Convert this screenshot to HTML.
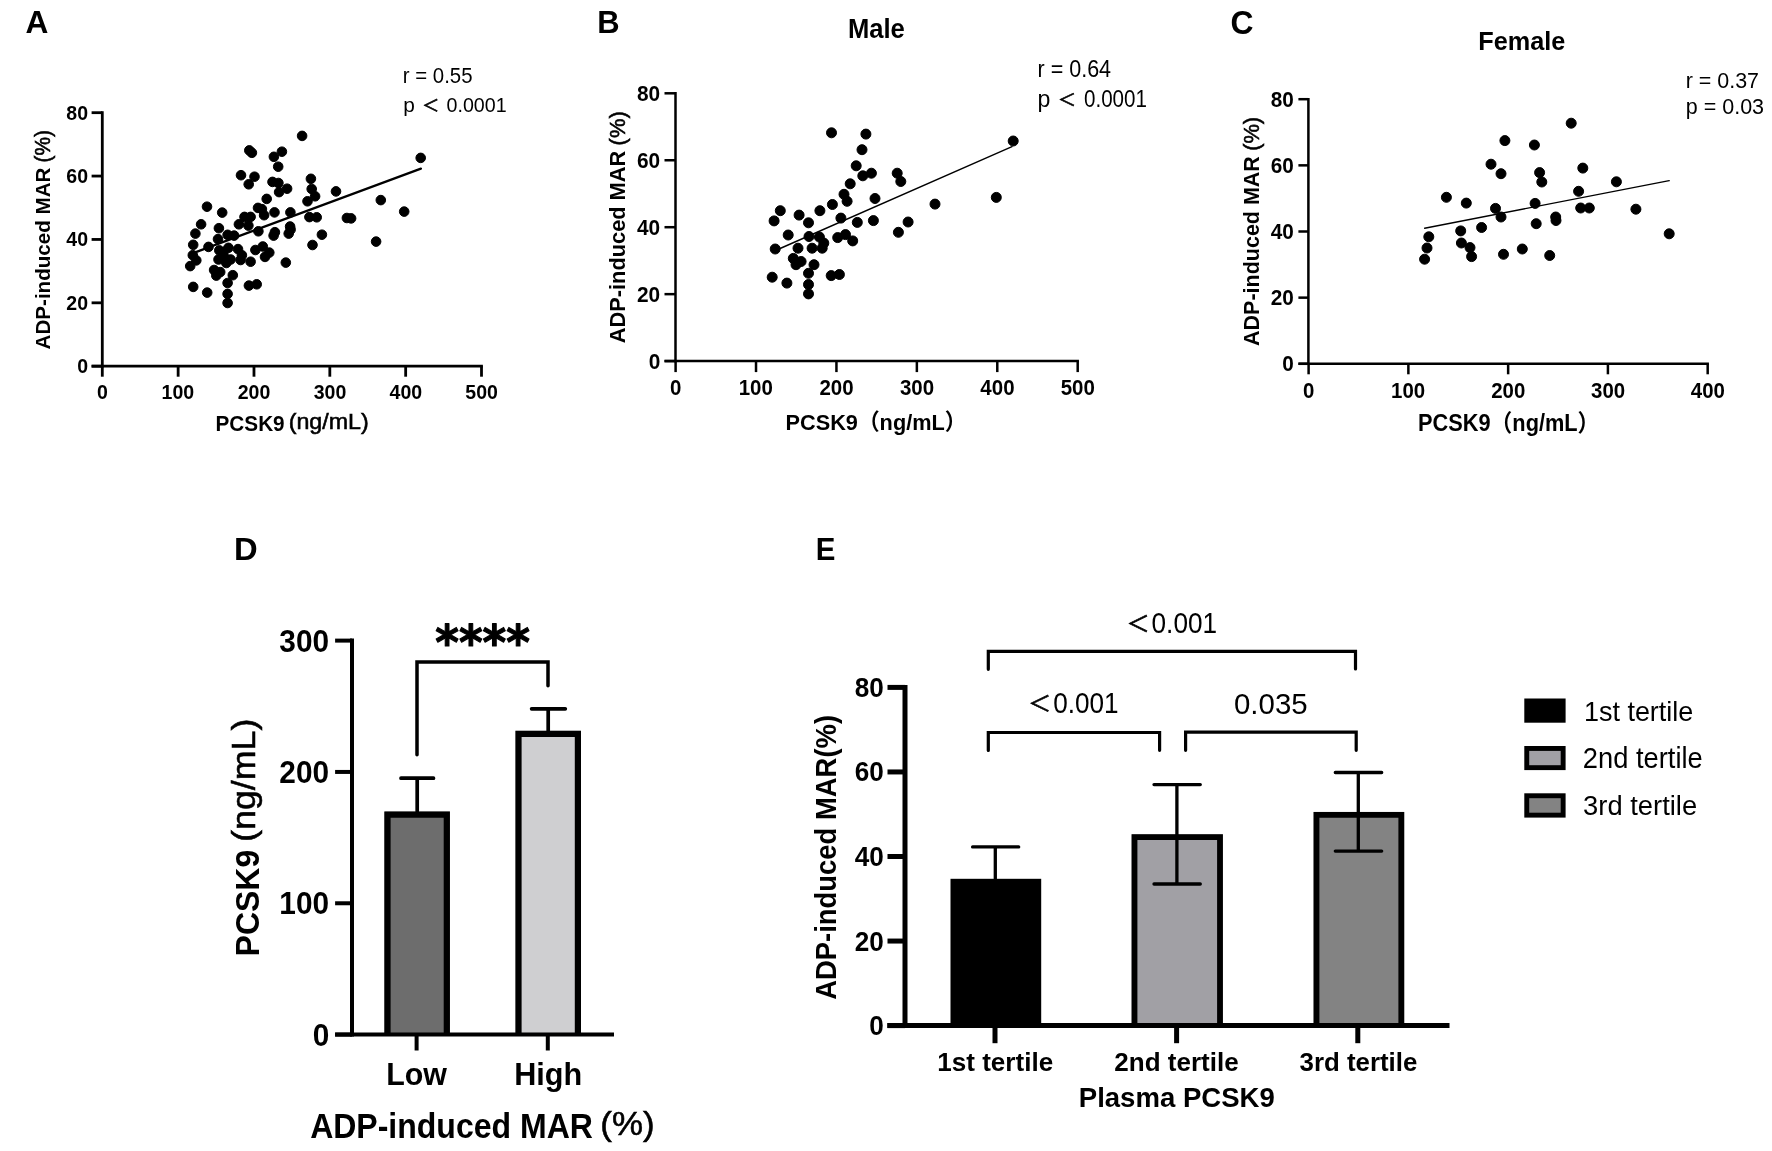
<!DOCTYPE html>
<html><head><meta charset="utf-8"><title>Figure</title>
<style>
html,body{margin:0;padding:0;background:#fff;}
body{width:1772px;height:1151px;overflow:hidden;}
svg{display:block;will-change:transform;}
text{font-family:"Liberation Sans","Noto Sans CJK SC",sans-serif;fill:#000;}
</style></head><body>
<svg width="1772" height="1151" viewBox="0 0 1772 1151">
<rect width="1772" height="1151" fill="#fff"/>
<g stroke="#000" fill="#000">
<rect x="384.40" y="811.60" width="65.50" height="223.00" fill="#6d6d6d" stroke="none"/>
<path d="M387.50,1034.60 V814.70 H446.80 V1034.60" fill="none" stroke-width="6.2" stroke-linejoin="miter"/>
<rect x="515.40" y="730.70" width="65.60" height="303.90" fill="#cfcfd1" stroke="none"/>
<path d="M518.50,1034.60 V733.80 H577.90 V1034.60" fill="none" stroke-width="6.2" stroke-linejoin="miter"/>
<rect x="1131.60" y="834.20" width="91.30" height="191.40" fill="#a1a0a5" stroke="none"/>
<path d="M1134.50,1025.60 V837.10 H1220.00 V1025.60" fill="none" stroke-width="5.8" stroke-linejoin="miter"/>
<rect x="1313.60" y="811.90" width="90.60" height="213.70" fill="#838383" stroke="none"/>
<path d="M1316.50,1025.60 V814.80 H1401.30 V1025.60" fill="none" stroke-width="5.8" stroke-linejoin="miter"/>
<path d="M102.30,112.68 V366.20" stroke-width="2.8" fill="none" stroke-linecap="square"/>
<line x1="91.60" y1="366.20" x2="482.90" y2="366.20" stroke-width="2.8" stroke-linecap="butt"/>
<line x1="91.60" y1="366.20" x2="102.30" y2="366.20" stroke-width="2.8" stroke-linecap="butt"/>
<line x1="91.60" y1="302.82" x2="102.30" y2="302.82" stroke-width="2.8" stroke-linecap="butt"/>
<line x1="91.60" y1="239.44" x2="102.30" y2="239.44" stroke-width="2.8" stroke-linecap="butt"/>
<line x1="91.60" y1="176.06" x2="102.30" y2="176.06" stroke-width="2.8" stroke-linecap="butt"/>
<line x1="91.60" y1="112.68" x2="102.30" y2="112.68" stroke-width="2.8" stroke-linecap="butt"/>
<line x1="102.30" y1="366.20" x2="102.30" y2="376.70" stroke-width="2.8" stroke-linecap="butt"/>
<line x1="178.14" y1="366.20" x2="178.14" y2="376.70" stroke-width="2.8" stroke-linecap="butt"/>
<line x1="253.98" y1="366.20" x2="253.98" y2="376.70" stroke-width="2.8" stroke-linecap="butt"/>
<line x1="329.82" y1="366.20" x2="329.82" y2="376.70" stroke-width="2.8" stroke-linecap="butt"/>
<line x1="405.66" y1="366.20" x2="405.66" y2="376.70" stroke-width="2.8" stroke-linecap="butt"/>
<line x1="481.50" y1="366.20" x2="481.50" y2="376.70" stroke-width="2.8" stroke-linecap="butt"/>
<circle cx="302.1" cy="135.9" r="4.8"/>
<circle cx="249.3" cy="150.4" r="4.8"/>
<circle cx="251.9" cy="152.8" r="4.8"/>
<circle cx="281.9" cy="151.7" r="4.8"/>
<circle cx="273.9" cy="156.8" r="4.8"/>
<circle cx="278.2" cy="166.7" r="4.8"/>
<circle cx="241.0" cy="175.2" r="4.8"/>
<circle cx="254.5" cy="176.7" r="4.8"/>
<circle cx="248.7" cy="184.3" r="4.8"/>
<circle cx="272.5" cy="181.9" r="4.8"/>
<circle cx="278.4" cy="183.0" r="4.8"/>
<circle cx="287.1" cy="188.7" r="4.8"/>
<circle cx="279.1" cy="192.1" r="4.8"/>
<circle cx="310.9" cy="178.8" r="4.8"/>
<circle cx="311.7" cy="189.0" r="4.8"/>
<circle cx="307.5" cy="201.3" r="4.8"/>
<circle cx="266.7" cy="198.9" r="4.8"/>
<circle cx="207.0" cy="206.7" r="4.8"/>
<circle cx="222.2" cy="212.6" r="4.8"/>
<circle cx="258.0" cy="207.9" r="4.8"/>
<circle cx="261.9" cy="209.1" r="4.8"/>
<circle cx="264.1" cy="215.2" r="4.8"/>
<circle cx="274.5" cy="212.4" r="4.8"/>
<circle cx="290.4" cy="212.4" r="4.8"/>
<circle cx="244.5" cy="216.9" r="4.8"/>
<circle cx="250.6" cy="216.9" r="4.8"/>
<circle cx="309.4" cy="217.1" r="4.8"/>
<circle cx="201.1" cy="224.3" r="4.8"/>
<circle cx="218.9" cy="228.2" r="4.8"/>
<circle cx="238.9" cy="224.3" r="4.8"/>
<circle cx="248.4" cy="225.6" r="4.8"/>
<circle cx="195.4" cy="233.6" r="4.8"/>
<circle cx="218.0" cy="239.1" r="4.8"/>
<circle cx="227.6" cy="234.8" r="4.8"/>
<circle cx="234.1" cy="235.6" r="4.8"/>
<circle cx="258.4" cy="231.3" r="4.8"/>
<circle cx="274.9" cy="232.2" r="4.8"/>
<circle cx="273.6" cy="235.6" r="4.8"/>
<circle cx="290.1" cy="226.5" r="4.8"/>
<circle cx="290.6" cy="229.6" r="4.8"/>
<circle cx="288.7" cy="233.6" r="4.8"/>
<circle cx="193.2" cy="244.8" r="4.8"/>
<circle cx="208.5" cy="246.9" r="4.8"/>
<circle cx="219.3" cy="250.4" r="4.8"/>
<circle cx="228.4" cy="247.8" r="4.8"/>
<circle cx="238.0" cy="249.1" r="4.8"/>
<circle cx="241.9" cy="255.2" r="4.8"/>
<circle cx="218.5" cy="259.5" r="4.8"/>
<circle cx="226.3" cy="263.0" r="4.8"/>
<circle cx="230.6" cy="259.5" r="4.8"/>
<circle cx="223.7" cy="256.1" r="4.8"/>
<circle cx="240.6" cy="260.0" r="4.8"/>
<circle cx="250.6" cy="261.7" r="4.8"/>
<circle cx="255.4" cy="250.0" r="4.8"/>
<circle cx="262.8" cy="246.5" r="4.8"/>
<circle cx="269.3" cy="252.6" r="4.8"/>
<circle cx="265.0" cy="256.9" r="4.8"/>
<circle cx="312.5" cy="245.0" r="4.8"/>
<circle cx="285.8" cy="262.6" r="4.8"/>
<circle cx="192.8" cy="255.2" r="4.8"/>
<circle cx="196.3" cy="260.4" r="4.8"/>
<circle cx="190.2" cy="266.1" r="4.8"/>
<circle cx="214.1" cy="270.0" r="4.8"/>
<circle cx="220.2" cy="272.1" r="4.8"/>
<circle cx="216.3" cy="275.6" r="4.8"/>
<circle cx="232.8" cy="275.2" r="4.8"/>
<circle cx="227.6" cy="283.0" r="4.8"/>
<circle cx="248.9" cy="285.6" r="4.8"/>
<circle cx="256.7" cy="284.3" r="4.8"/>
<circle cx="193.2" cy="286.9" r="4.8"/>
<circle cx="207.2" cy="292.6" r="4.8"/>
<circle cx="227.6" cy="293.9" r="4.8"/>
<circle cx="227.6" cy="303.0" r="4.8"/>
<circle cx="223.5" cy="252.0" r="4.8"/>
<circle cx="420.7" cy="157.9" r="4.8"/>
<circle cx="315.1" cy="196.3" r="4.8"/>
<circle cx="336.0" cy="191.4" r="4.8"/>
<circle cx="380.8" cy="200.1" r="4.8"/>
<circle cx="404.2" cy="211.6" r="4.8"/>
<circle cx="316.7" cy="217.3" r="4.8"/>
<circle cx="346.9" cy="218.0" r="4.8"/>
<circle cx="351.1" cy="218.4" r="4.8"/>
<circle cx="321.9" cy="234.7" r="4.8"/>
<circle cx="376.1" cy="241.6" r="4.8"/>
<line x1="194.50" y1="252.60" x2="420.90" y2="168.70" stroke-width="2.3" stroke-linecap="round"/>
<path d="M675.50,93.30 V361.10" stroke-width="2.5" fill="none" stroke-linecap="square"/>
<line x1="664.50" y1="361.10" x2="1078.95" y2="361.10" stroke-width="2.5" stroke-linecap="butt"/>
<line x1="664.50" y1="361.10" x2="675.50" y2="361.10" stroke-width="2.5" stroke-linecap="butt"/>
<line x1="664.50" y1="294.15" x2="675.50" y2="294.15" stroke-width="2.5" stroke-linecap="butt"/>
<line x1="664.50" y1="227.20" x2="675.50" y2="227.20" stroke-width="2.5" stroke-linecap="butt"/>
<line x1="664.50" y1="160.25" x2="675.50" y2="160.25" stroke-width="2.5" stroke-linecap="butt"/>
<line x1="664.50" y1="93.30" x2="675.50" y2="93.30" stroke-width="2.5" stroke-linecap="butt"/>
<line x1="675.60" y1="361.10" x2="675.60" y2="372.10" stroke-width="2.5" stroke-linecap="butt"/>
<line x1="756.02" y1="361.10" x2="756.02" y2="372.10" stroke-width="2.5" stroke-linecap="butt"/>
<line x1="836.44" y1="361.10" x2="836.44" y2="372.10" stroke-width="2.5" stroke-linecap="butt"/>
<line x1="916.86" y1="361.10" x2="916.86" y2="372.10" stroke-width="2.5" stroke-linecap="butt"/>
<line x1="997.28" y1="361.10" x2="997.28" y2="372.10" stroke-width="2.5" stroke-linecap="butt"/>
<line x1="1077.70" y1="361.10" x2="1077.70" y2="372.10" stroke-width="2.5" stroke-linecap="butt"/>
<circle cx="831.5" cy="132.8" r="5.0"/>
<circle cx="865.9" cy="134.1" r="5.0"/>
<circle cx="862.0" cy="149.7" r="5.0"/>
<circle cx="856.2" cy="165.8" r="5.0"/>
<circle cx="871.4" cy="173.2" r="5.0"/>
<circle cx="862.8" cy="175.8" r="5.0"/>
<circle cx="897.2" cy="173.2" r="5.0"/>
<circle cx="900.8" cy="181.5" r="5.0"/>
<circle cx="850.2" cy="183.8" r="5.0"/>
<circle cx="844.0" cy="194.3" r="5.0"/>
<circle cx="847.1" cy="201.3" r="5.0"/>
<circle cx="875.0" cy="198.5" r="5.0"/>
<circle cx="832.4" cy="204.5" r="5.0"/>
<circle cx="780.3" cy="210.7" r="5.0"/>
<circle cx="799.1" cy="215.1" r="5.0"/>
<circle cx="819.9" cy="210.7" r="5.0"/>
<circle cx="774.1" cy="220.9" r="5.0"/>
<circle cx="808.5" cy="222.8" r="5.0"/>
<circle cx="840.9" cy="218.1" r="5.0"/>
<circle cx="857.3" cy="222.4" r="5.0"/>
<circle cx="873.4" cy="220.6" r="5.0"/>
<circle cx="908.1" cy="222.0" r="5.0"/>
<circle cx="898.4" cy="232.3" r="5.0"/>
<circle cx="788.2" cy="235.0" r="5.0"/>
<circle cx="809.0" cy="236.5" r="5.0"/>
<circle cx="819.4" cy="237.0" r="5.0"/>
<circle cx="823.8" cy="243.1" r="5.0"/>
<circle cx="837.7" cy="237.6" r="5.0"/>
<circle cx="845.5" cy="234.6" r="5.0"/>
<circle cx="852.7" cy="240.9" r="5.0"/>
<circle cx="775.2" cy="249.0" r="5.0"/>
<circle cx="798.0" cy="248.2" r="5.0"/>
<circle cx="812.1" cy="248.2" r="5.0"/>
<circle cx="822.2" cy="248.2" r="5.0"/>
<circle cx="793.3" cy="258.4" r="5.0"/>
<circle cx="801.1" cy="261.5" r="5.0"/>
<circle cx="796.0" cy="264.7" r="5.0"/>
<circle cx="814.0" cy="264.7" r="5.0"/>
<circle cx="808.5" cy="273.3" r="5.0"/>
<circle cx="772.2" cy="277.2" r="5.0"/>
<circle cx="786.9" cy="283.1" r="5.0"/>
<circle cx="831.2" cy="275.6" r="5.0"/>
<circle cx="839.4" cy="274.5" r="5.0"/>
<circle cx="808.5" cy="284.5" r="5.0"/>
<circle cx="808.5" cy="293.9" r="5.0"/>
<circle cx="935.0" cy="204.1" r="5.0"/>
<circle cx="996.3" cy="197.4" r="5.0"/>
<circle cx="1013.2" cy="141.0" r="5.0"/>
<line x1="775.50" y1="250.50" x2="1012.00" y2="146.60" stroke-width="1.4" stroke-linecap="round"/>
<path d="M1308.40,99.20 V363.80" stroke-width="2.5" fill="none" stroke-linecap="square"/>
<line x1="1298.40" y1="363.80" x2="1708.93" y2="363.80" stroke-width="2.5" stroke-linecap="butt"/>
<line x1="1298.40" y1="363.80" x2="1308.40" y2="363.80" stroke-width="2.5" stroke-linecap="butt"/>
<line x1="1298.40" y1="297.65" x2="1308.40" y2="297.65" stroke-width="2.5" stroke-linecap="butt"/>
<line x1="1298.40" y1="231.50" x2="1308.40" y2="231.50" stroke-width="2.5" stroke-linecap="butt"/>
<line x1="1298.40" y1="165.35" x2="1308.40" y2="165.35" stroke-width="2.5" stroke-linecap="butt"/>
<line x1="1298.40" y1="99.20" x2="1308.40" y2="99.20" stroke-width="2.5" stroke-linecap="butt"/>
<line x1="1308.60" y1="363.80" x2="1308.60" y2="374.30" stroke-width="2.5" stroke-linecap="butt"/>
<line x1="1408.37" y1="363.80" x2="1408.37" y2="374.30" stroke-width="2.5" stroke-linecap="butt"/>
<line x1="1508.14" y1="363.80" x2="1508.14" y2="374.30" stroke-width="2.5" stroke-linecap="butt"/>
<line x1="1607.91" y1="363.80" x2="1607.91" y2="374.30" stroke-width="2.5" stroke-linecap="butt"/>
<line x1="1707.68" y1="363.80" x2="1707.68" y2="374.30" stroke-width="2.5" stroke-linecap="butt"/>
<circle cx="1571.2" cy="123.2" r="5.0"/>
<circle cx="1504.9" cy="140.6" r="5.0"/>
<circle cx="1534.4" cy="145.0" r="5.0"/>
<circle cx="1491.0" cy="164.2" r="5.0"/>
<circle cx="1501.0" cy="173.7" r="5.0"/>
<circle cx="1539.6" cy="172.6" r="5.0"/>
<circle cx="1541.8" cy="182.0" r="5.0"/>
<circle cx="1582.8" cy="168.1" r="5.0"/>
<circle cx="1446.4" cy="197.3" r="5.0"/>
<circle cx="1466.3" cy="203.1" r="5.0"/>
<circle cx="1535.1" cy="203.4" r="5.0"/>
<circle cx="1578.6" cy="191.3" r="5.0"/>
<circle cx="1495.5" cy="208.4" r="5.0"/>
<circle cx="1501.0" cy="217.0" r="5.0"/>
<circle cx="1580.7" cy="208.0" r="5.0"/>
<circle cx="1589.3" cy="208.0" r="5.0"/>
<circle cx="1481.6" cy="227.5" r="5.0"/>
<circle cx="1536.2" cy="223.7" r="5.0"/>
<circle cx="1555.7" cy="217.0" r="5.0"/>
<circle cx="1556.0" cy="220.5" r="5.0"/>
<circle cx="1460.7" cy="230.9" r="5.0"/>
<circle cx="1428.8" cy="236.8" r="5.0"/>
<circle cx="1427.0" cy="248.0" r="5.0"/>
<circle cx="1461.4" cy="243.0" r="5.0"/>
<circle cx="1470.0" cy="247.6" r="5.0"/>
<circle cx="1471.6" cy="256.6" r="5.0"/>
<circle cx="1424.6" cy="259.2" r="5.0"/>
<circle cx="1503.5" cy="254.3" r="5.0"/>
<circle cx="1522.3" cy="249.0" r="5.0"/>
<circle cx="1549.7" cy="255.5" r="5.0"/>
<circle cx="1616.4" cy="181.8" r="5.0"/>
<circle cx="1635.9" cy="209.2" r="5.0"/>
<circle cx="1669.2" cy="233.8" r="5.0"/>
<line x1="1424.60" y1="228.20" x2="1669.20" y2="180.60" stroke-width="1.4" stroke-linecap="round"/>
<path d="M352.0,640.61 V1034.6" stroke-width="4.0" fill="none" stroke-linecap="square"/>
<line x1="335.10" y1="1034.60" x2="614.00" y2="1034.60" stroke-width="4.0" stroke-linecap="butt"/>
<line x1="335.10" y1="1034.60" x2="352.00" y2="1034.60" stroke-width="4.0" stroke-linecap="butt"/>
<line x1="335.10" y1="903.27" x2="352.00" y2="903.27" stroke-width="4.0" stroke-linecap="butt"/>
<line x1="335.10" y1="771.94" x2="352.00" y2="771.94" stroke-width="4.0" stroke-linecap="butt"/>
<line x1="335.10" y1="640.61" x2="352.00" y2="640.61" stroke-width="4.0" stroke-linecap="butt"/>
<line x1="416.60" y1="1034.60" x2="416.60" y2="1050.50" stroke-width="4.0" stroke-linecap="butt"/>
<line x1="547.80" y1="1034.60" x2="547.80" y2="1050.50" stroke-width="4.0" stroke-linecap="butt"/>
<path d="M417.2,811.6 V778.2 M401.0,778.2 H433.5" fill="none" stroke-width="3.7" stroke-linecap="round" stroke-linejoin="miter"/>
<path d="M548.2,731.2 V708.8 M531.6,708.8 H565.3" fill="none" stroke-width="3.7" stroke-linecap="round" stroke-linejoin="miter"/>
<path d="M417.0,754.7 V662.0 H548.0 V685.7" fill="none" stroke-width="3.5" stroke-linecap="round" stroke-linejoin="miter"/>
<path d="M905.0,687.40 V1025.6" stroke-width="5.0" fill="none" stroke-linecap="square"/>
<line x1="887.30" y1="1025.60" x2="1449.50" y2="1025.60" stroke-width="5.0" stroke-linecap="butt"/>
<line x1="887.50" y1="1025.60" x2="905.00" y2="1025.60" stroke-width="5.0" stroke-linecap="butt"/>
<line x1="887.50" y1="941.05" x2="905.00" y2="941.05" stroke-width="5.0" stroke-linecap="butt"/>
<line x1="887.50" y1="856.50" x2="905.00" y2="856.50" stroke-width="5.0" stroke-linecap="butt"/>
<line x1="887.50" y1="771.95" x2="905.00" y2="771.95" stroke-width="5.0" stroke-linecap="butt"/>
<line x1="887.50" y1="687.40" x2="905.00" y2="687.40" stroke-width="5.0" stroke-linecap="butt"/>
<line x1="995.00" y1="1025.60" x2="995.00" y2="1043.20" stroke-width="5.0" stroke-linecap="butt"/>
<line x1="1176.60" y1="1025.60" x2="1176.60" y2="1043.20" stroke-width="5.0" stroke-linecap="butt"/>
<line x1="1357.80" y1="1025.60" x2="1357.80" y2="1043.20" stroke-width="5.0" stroke-linecap="butt"/>
<rect x="950.50" y="878.80" width="90.70" height="146.80" fill="#000" stroke="none"/>
<path d="M995.3,878.8 V846.9 M972.6,846.9 H1018.7" fill="none" stroke-width="3.3" stroke-linecap="round" stroke-linejoin="miter"/>
<path d="M1176.9,784.6 V884.0 M1154.0,784.6 H1200.3 M1154.0,884.0 H1200.3" fill="none" stroke-width="3.3" stroke-linecap="round" stroke-linejoin="miter"/>
<path d="M1358.3,772.5 V851.1 M1335.3,772.5 H1381.7 M1335.3,851.1 H1381.7" fill="none" stroke-width="3.3" stroke-linecap="round" stroke-linejoin="miter"/>
<path d="M988.3,669.3 V651.4 H1355.5 V669.0" fill="none" stroke-width="3.2" stroke-linecap="round" stroke-linejoin="miter"/>
<path d="M988.3,750.5 V732.5 H1159.6 V750.3" fill="none" stroke-width="3.2" stroke-linecap="round" stroke-linejoin="miter"/>
<path d="M1185.6,750.3 V732.2 H1356.2 V750.3" fill="none" stroke-width="3.2" stroke-linecap="round" stroke-linejoin="miter"/>
<rect x="1524.30" y="698.50" width="41.30" height="24.20" fill="#000" stroke="none"/>
<rect x="1526.75" y="748.45" width="36.40" height="19.20" fill="#a1a0a5" stroke-width="4.9"/>
<rect x="1526.75" y="795.75" width="36.40" height="19.40" fill="#838383" stroke-width="4.9"/>
</g>
<g>
<text transform="translate(77.245,373.124) scale(0.9725,1)" font-weight="bold" font-size="20.07">0</text>
<text transform="translate(66.314,309.744) scale(0.9725,1)" font-weight="bold" font-size="20.07">20</text>
<text transform="translate(66.314,246.364) scale(0.9725,1)" font-weight="bold" font-size="20.07">40</text>
<text transform="translate(66.314,182.984) scale(0.9725,1)" font-weight="bold" font-size="20.07">60</text>
<text transform="translate(66.314,119.604) scale(0.9725,1)" font-weight="bold" font-size="20.07">80</text>
<text transform="translate(96.923,398.693) scale(0.9445,1)" font-weight="bold" font-size="20.70">0</text>
<text transform="translate(161.617,398.693) scale(0.9445,1)" font-weight="bold" font-size="20.70">100</text>
<text transform="translate(237.750,398.693) scale(0.9445,1)" font-weight="bold" font-size="20.70">200</text>
<text transform="translate(313.688,398.693) scale(0.9445,1)" font-weight="bold" font-size="20.70">300</text>
<text transform="translate(389.528,398.693) scale(0.9445,1)" font-weight="bold" font-size="20.70">400</text>
<text transform="translate(465.270,398.693) scale(0.9445,1)" font-weight="bold" font-size="20.70">500</text>
<text transform="translate(648.659,368.535) scale(0.9683,1)" font-weight="bold" font-size="21.55">0</text>
<text transform="translate(636.974,301.585) scale(0.9683,1)" font-weight="bold" font-size="21.55">20</text>
<text transform="translate(636.974,234.635) scale(0.9683,1)" font-weight="bold" font-size="21.55">40</text>
<text transform="translate(636.974,167.685) scale(0.9683,1)" font-weight="bold" font-size="21.55">60</text>
<text transform="translate(636.974,100.735) scale(0.9683,1)" font-weight="bold" font-size="21.55">80</text>
<text transform="translate(669.960,395.285) scale(0.9518,1)" font-weight="bold" font-size="21.55">0</text>
<text transform="translate(738.689,395.285) scale(0.9518,1)" font-weight="bold" font-size="21.55">100</text>
<text transform="translate(819.417,395.285) scale(0.9518,1)" font-weight="bold" font-size="21.55">200</text>
<text transform="translate(899.940,395.285) scale(0.9518,1)" font-weight="bold" font-size="21.55">300</text>
<text transform="translate(980.360,395.285) scale(0.9518,1)" font-weight="bold" font-size="21.55">400</text>
<text transform="translate(1060.677,395.285) scale(0.9518,1)" font-weight="bold" font-size="21.55">500</text>
<text transform="translate(1282.308,371.283) scale(0.9575,1)" font-weight="bold" font-size="21.69">0</text>
<text transform="translate(1270.677,305.133) scale(0.9575,1)" font-weight="bold" font-size="21.69">20</text>
<text transform="translate(1270.677,238.983) scale(0.9575,1)" font-weight="bold" font-size="21.69">40</text>
<text transform="translate(1270.677,172.833) scale(0.9575,1)" font-weight="bold" font-size="21.69">60</text>
<text transform="translate(1270.677,106.683) scale(0.9575,1)" font-weight="bold" font-size="21.69">80</text>
<text transform="translate(1302.977,397.686) scale(0.9550,1)" font-weight="bold" font-size="21.41">0</text>
<text transform="translate(1391.093,397.686) scale(0.9550,1)" font-weight="bold" font-size="21.41">100</text>
<text transform="translate(1491.170,397.686) scale(0.9550,1)" font-weight="bold" font-size="21.41">200</text>
<text transform="translate(1591.042,397.686) scale(0.9550,1)" font-weight="bold" font-size="21.41">300</text>
<text transform="translate(1690.812,397.686) scale(0.9550,1)" font-weight="bold" font-size="21.41">400</text>
<text transform="translate(25.450,33.400) scale(0.9887,1)" font-weight="bold" font-size="32.03">A</text>
<text transform="translate(597.231,33.100) scale(0.9718,1)" font-weight="bold" font-size="31.88">B</text>
<text transform="translate(1230.426,33.572) scale(0.9704,1)" font-weight="bold" font-size="32.82">C</text>
<text transform="translate(234.005,560.200) scale(1.0283,1)" font-weight="bold" font-size="31.88">D</text>
<text transform="translate(815.837,560.200) scale(0.9241,1)" font-weight="bold" font-size="31.88">E</text>
<text transform="translate(847.907,38.000) scale(0.9351,1)" font-weight="bold" font-size="27.39">Male</text>
<text transform="translate(1478.331,49.600) scale(0.9476,1)" font-weight="bold" font-size="26.67">Female</text>
<text transform="translate(402.770,83.000) scale(0.9531,1)" font-weight="normal" font-size="21.43">r = 0.55</text>
<text transform="translate(403.140,111.500)" font-weight="normal" font-size="20.86">p</text>
<text transform="translate(422.304,110.538) scale(1.0500,1)" font-weight="normal" font-size="16.15" style="stroke:#000;stroke-width:0.6px">＜</text>
<text transform="translate(446.513,111.500) scale(0.9428,1)" font-weight="normal" font-size="20.86">0.0001</text>
<text transform="translate(1037.492,76.900) scale(0.9306,1)" font-weight="normal" font-size="23.14">r = 0.64</text>
<text transform="translate(1037.580,107.300)" font-weight="normal" font-size="23.14">p</text>
<text transform="translate(1058.103,105.933) scale(1.0785,1)" font-weight="normal" font-size="16.67" style="stroke:#000;stroke-width:0.6px">＜</text>
<text transform="translate(1083.976,107.300) scale(0.8904,1)" font-weight="normal" font-size="23.14">0.0001</text>
<text transform="translate(1685.698,87.900) scale(0.9566,1)" font-weight="normal" font-size="22.43">r = 0.37</text>
<text transform="translate(1685.795,114.400) scale(0.9526,1)" font-weight="normal" font-size="22.57">p = 0.03</text>
<text transform="translate(215.548,430.500) scale(0.9616,1)" font-weight="bold" font-size="21.57">PCSK9</text>
<text transform="translate(288.705,428.976) scale(1.0555,1)" font-weight="normal" font-size="22.02" style="stroke:#000;stroke-width:0.55px">(ng/mL)</text>
<text transform="translate(785.579,429.900) scale(0.9624,1)" font-weight="bold" font-size="22.57">PCSK9（ng/mL）</text>
<text transform="translate(1418.077,430.600) scale(0.9177,1)" font-weight="bold" font-size="23.71">PCSK9（ng/mL）</text>
<text transform="translate(50.300,349.418) rotate(-90) scale(0.9825,1)" font-weight="bold" font-size="20.96">ADP-induced MAR</text>
<text transform="translate(50.165,162.554) rotate(-90) scale(0.9679,1)" font-weight="normal" font-size="21.60" style="stroke:#000;stroke-width:0.55px">(%)</text>
<text transform="translate(625.000,343.254) rotate(-90) scale(0.9828,1)" font-weight="bold" font-size="22.19">ADP-induced MAR</text>
<text transform="translate(625.274,145.417) rotate(-90) scale(0.9550,1)" font-weight="normal" font-size="22.98" style="stroke:#000;stroke-width:0.55px">(%)</text>
<text transform="translate(1259.200,345.945) rotate(-90) scale(0.9750,1)" font-weight="bold" font-size="22.05">ADP-induced MAR</text>
<text transform="translate(1259.286,150.808) rotate(-90) scale(0.9714,1)" font-weight="normal" font-size="22.45" style="stroke:#000;stroke-width:0.55px">(%)</text>
<text transform="translate(312.695,1045.582) scale(0.9366,1)" font-weight="bold" font-size="31.83">0</text>
<text transform="translate(279.304,914.252) scale(0.9366,1)" font-weight="bold" font-size="31.83">100</text>
<text transform="translate(279.304,782.922) scale(0.9366,1)" font-weight="bold" font-size="31.83">200</text>
<text transform="translate(279.304,651.592) scale(0.9366,1)" font-weight="bold" font-size="31.83">300</text>
<text transform="translate(435.194,658.845) scale(0.9503,1)" font-weight="bold" font-size="47.66" style="font-family:'DejaVu Sans';stroke:#000;stroke-width:1.1px;stroke-linejoin:round">****</text>
<text transform="translate(386.171,1085.200) scale(0.9627,1)" font-weight="bold" font-size="31.59">Low</text>
<text transform="translate(514.156,1085.200) scale(0.9737,1)" font-weight="bold" font-size="31.45">High</text>
<text transform="translate(310.139,1138.400) scale(0.9324,1)" font-weight="bold" font-size="34.35">ADP-induced MAR</text>
<text transform="translate(600.304,1134.919) scale(1.0661,1)" font-weight="normal" font-size="32.77" style="stroke:#000;stroke-width:0.55px">(%)</text>
<text transform="translate(258.600,956.441) rotate(-90) scale(0.9495,1)" font-weight="bold" font-size="33.71">PCSK9</text>
<text transform="translate(254.941,841.950) rotate(-90) scale(1.0969,1)" font-weight="normal" font-size="32.66" style="stroke:#000;stroke-width:0.55px">(ng/mL)</text>
<text transform="translate(869.362,1035.124) scale(0.9474,1)" font-weight="bold" font-size="27.61">0</text>
<text transform="translate(854.715,950.574) scale(0.9474,1)" font-weight="bold" font-size="27.61">20</text>
<text transform="translate(854.715,866.024) scale(0.9474,1)" font-weight="bold" font-size="27.61">40</text>
<text transform="translate(854.715,781.474) scale(0.9474,1)" font-weight="bold" font-size="27.61">60</text>
<text transform="translate(854.715,696.924) scale(0.9474,1)" font-weight="bold" font-size="27.61">80</text>
<text transform="translate(1126.384,631.181) scale(1.0566,1)" font-weight="normal" font-size="21.92" style="stroke:#000;stroke-width:0.6px">＜</text>
<text transform="translate(1151.553,632.900) scale(0.9073,1)" font-weight="normal" font-size="28.86">0.001</text>
<text transform="translate(1028.309,711.185) scale(1.0637,1)" font-weight="normal" font-size="21.54" style="stroke:#000;stroke-width:0.6px">＜</text>
<text transform="translate(1053.154,713.200) scale(0.8926,1)" font-weight="normal" font-size="29.29">0.001</text>
<text transform="translate(1234.023,713.500) scale(0.9901,1)" font-weight="normal" font-size="29.71">0.035</text>
<text transform="translate(937.236,1070.900) scale(0.9860,1)" font-weight="bold" font-size="26.44">1st tertile</text>
<text transform="translate(1114.319,1070.700) scale(1.0161,1)" font-weight="bold" font-size="25.62">2nd tertile</text>
<text transform="translate(1299.583,1070.700) scale(1.0089,1)" font-weight="bold" font-size="25.62">3rd tertile</text>
<text transform="translate(1078.771,1106.600) scale(0.9793,1)" font-weight="bold" font-size="28.14">Plasma PCSK9</text>
<text transform="translate(835.900,999.823) rotate(-90) scale(0.9191,1)" font-weight="bold" font-size="29.86">ADP-induced MAR(%)</text>
<text transform="translate(1583.942,720.500) scale(0.9605,1)" font-weight="normal" font-size="28.08">1st tertile</text>
<text transform="translate(1582.835,767.800) scale(0.9536,1)" font-weight="normal" font-size="28.63">2nd tertile</text>
<text transform="translate(1583.106,814.700) scale(0.9836,1)" font-weight="normal" font-size="27.81">3rd tertile</text>
</g>
</svg>
</body></html>
